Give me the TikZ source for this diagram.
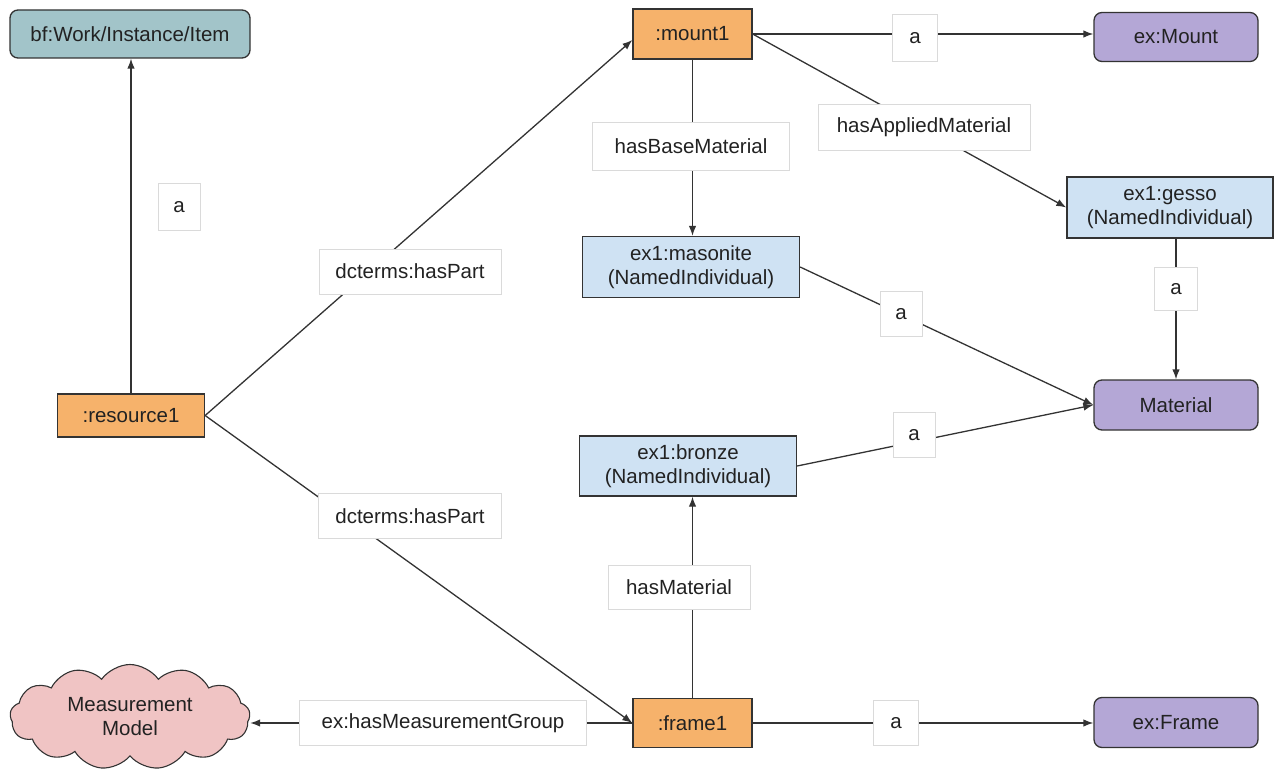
\documentclass[tikz,border=0pt]{standalone}
\usepackage{fontspec}
\setmainfont{Liberation Sans}
\usetikzlibrary{arrows.meta,shapes.symbols,calc}
\definecolor{cteal}{HTML}{A2C4C9}
\definecolor{corange}{HTML}{F6B26B}
\definecolor{cpurple}{HTML}{B4A7D6}
\definecolor{cblue}{HTML}{CFE2F3}
\definecolor{cpink}{HTML}{F0C4C4}
\definecolor{cline}{HTML}{333333}
\definecolor{ctext}{HTML}{222222}
\definecolor{clab}{HTML}{DADADA}
\tikzset{
  base/.style={draw=cline, line width=1.3pt, inner sep=0pt, align=center, text=ctext,
    font=\fontsize{20.5}{24}\selectfont},
  cls/.style={base, rounded corners=8pt},
  inst/.style={base},
  lab/.style={draw=clab, line width=0.8pt, fill=white, inner sep=0pt, text=ctext,
    font=\fontsize{20.5}{24}\selectfont},
  edge/.style={draw=cline, line width=1.3pt},
  arr/.style={edge, -{Latex[length=10pt,width=7.5pt]}},
}
\begin{document}
\begin{tikzpicture}[x=1pt,y=-1pt]
\useasboundingbox (0,0) rectangle (1275,778);
% nodes
\node[cls, fill=cteal, minimum width=240, minimum height=48] (bf) at (130,34) {bf:Work/Instance/Item};
\node[inst, fill=corange, minimum width=119, minimum height=50] (mount1) at (692.5,34) {:mount1};
\node[cls, fill=cpurple, minimum width=164, minimum height=49] (exMount) at (1176,37) {ex:Mount};
\node[inst, fill=cblue, minimum width=206, minimum height=61] (gesso) at (1170,207.5) {ex1:gesso\\(NamedIndividual)};
\node[inst, fill=cblue, minimum width=217, minimum height=61] (masonite) at (691,267) {ex1:masonite\\(NamedIndividual)};
\node[cls, fill=cpurple, minimum width=164, minimum height=50] (material) at (1176,405) {Material};
\node[inst, fill=corange, minimum width=147, minimum height=43] (resource1) at (131,415.5) {:resource1};
\node[inst, fill=cblue, minimum width=217, minimum height=60] (bronze) at (688,466) {ex1:bronze\\(NamedIndividual)};
\node[cloud, cloud puffs=13, cloud puff arc=110, cloud ignores aspect, draw=cline, line width=1.1pt, fill=cpink,
  minimum width=240, minimum height=105, inner sep=0pt, align=center, text=ctext,
  font=\fontsize{20.5}{24}\selectfont] (cloud) at (130,717) {Measurement\\Model};
\node[inst, fill=corange, minimum width=119, minimum height=49] (frame1) at (692.5,723) {:frame1};
\node[cls, fill=cpurple, minimum width=164, minimum height=50] (exFrame) at (1176,722.5) {ex:Frame};
% edges
\draw[arr] (resource1.north) -- (resource1.north |- bf.south);
\draw[arr] (resource1.east) -- ($(mount1.west)+(0,6)$);
\draw[arr] (resource1.east) -- (frame1.west);
\draw[arr] (mount1.east) -- (mount1.east -| exMount.west);
\draw[arr] (mount1.east) -- (gesso.west);
\draw[arr] (mount1.south) -- (mount1.south |- masonite.north);
\draw[arr] (masonite.east) -- (material.west);
\draw[arr] (gesso.south -| material.north) -- (material.north);
\draw[arr] (bronze.east) -- (material.west);
\draw[arr] (frame1.north) -- (frame1.north |- bronze.south);
\draw[arr] (frame1.west) -- (frame1.west -| cloud.east);
\draw[arr] (frame1.east) -- (frame1.east -| exFrame.west);
% labels
\node[lab, minimum width=42, minimum height=47] (la1) at (179,207) {a};
\node[lab, minimum width=182, minimum height=45] (lp1) at (410,271.5) {dcterms:hasPart};
\node[lab, minimum width=183, minimum height=45] (lp2) at (410,516) {dcterms:hasPart};
\node[lab, minimum width=45, minimum height=47] (lm) at (915,38) {a};
\node[lab, minimum width=212, minimum height=46] (lam) at (924,127) {hasAppliedMaterial};
\node[lab, minimum width=197, minimum height=48] (lbm) at (691,146) {hasBaseMaterial};
\node[lab, minimum width=42, minimum height=45] (lma) at (901,314) {a};
\node[lab, minimum width=43, minimum height=43] (lga) at (1176,289) {a};
\node[lab, minimum width=42, minimum height=45] (lba) at (914,435) {a};
\node[lab, minimum width=142, minimum height=44] (lhm) at (679,587) {hasMaterial};
\node[lab, minimum width=287, minimum height=45] (lmg) at (443,723) {ex:hasMeasurementGroup};
\node[lab, minimum width=45, minimum height=45] (lfa) at (896,723) {a};
\end{tikzpicture}
\end{document}
